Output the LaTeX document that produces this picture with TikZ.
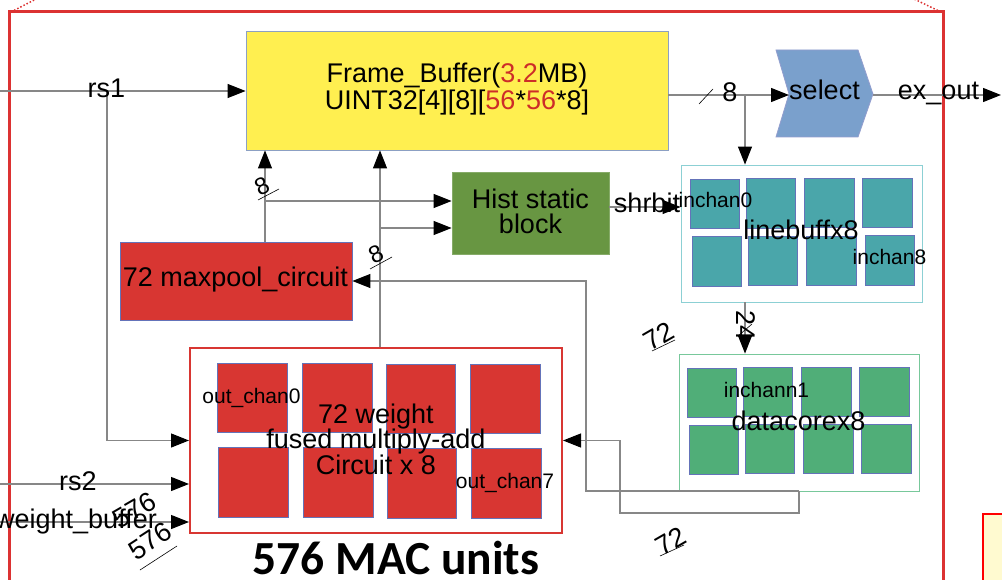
\documentclass[tikz,border=0pt]{standalone}
\usepackage{fontspec}
\setmainfont{Liberation Sans}
\newfontfamily\carlito{Carlito}
\usetikzlibrary{arrows.meta}
\definecolor{framered}{RGB}{220,50,50}
\definecolor{fbyellow}{RGB}{255,239,80}
\definecolor{boxedge}{RGB}{140,160,195}
\definecolor{txtred}{RGB}{205,45,40}
\definecolor{histgreen}{RGB}{104,150,66}
\definecolor{selblue}{RGB}{122,160,204}
\definecolor{macred}{RGB}{216,54,50}
\definecolor{sqedge}{RGB}{100,115,185}
\definecolor{teal}{RGB}{74,166,170}
\definecolor{lbedge}{RGB}{140,208,212}
\definecolor{dcgreen}{RGB}{80,174,120}
\definecolor{dcedge}{RGB}{120,200,155}
\definecolor{conngray}{RGB}{135,135,135}
\definecolor{noteyellow}{RGB}{255,250,208}
\begin{document}
\begin{tikzpicture}[x=1pt,y=-1pt,
  big/.style={font=\fontsize{27}{25}\selectfont,inner sep=0pt},
  small/.style={font=\fontsize{21}{21}\selectfont,inner sep=0pt},
  blk/.style={inner sep=0pt,draw=boxedge,line width=0.8pt},
  conn/.style={draw=conngray,line width=1.1pt},
  arr/.style={-{Triangle[length=18pt,width=14pt,color=black]}},
  slash/.style={draw=black,line width=0.6pt},
  sqred/.style={fill=macred,draw=sqedge,line width=0.8pt},
  sqteal/.style={fill=teal,draw=sqedge,line width=0.8pt},
  sqgreen/.style={fill=dcgreen,draw=sqedge,line width=0.8pt}]
\useasboundingbox (0,0) rectangle (1002,580);

% outer frame
\draw[framered,line width=3pt] (9.5,600) -- (9.5,12) -- (943,12) -- (943,600);
\draw[framered,line width=1.5pt,dotted] (11,12) -- (38,-2);
\draw[framered,line width=1.5pt,dotted] (941,12) -- (912,-2);
% note box bottom right
\draw[draw=red,line width=2pt,fill=noteyellow] (983,514) rectangle (1012,600);

% blocks
\node[blk,fill=fbyellow,minimum width=422pt,minimum height=119pt] (fb) at (457,90.5) {};
\node[big,align=center] (fbtext) at (457,89) {Frame\_Buffer(\textcolor{txtred}{3.2}MB)\\UINT32[4][8][\textcolor{txtred}{56}*\textcolor{txtred}{56}*8]};
\node[blk,draw=histgreen!80!white,fill=histgreen,minimum width=157pt,minimum height=82pt] (hist) at (530.5,213) {};
\node[big,align=center] (histtext) at (530.5,211.5) {Hist static\\block};
\node[blk,draw=sqedge,fill=macred,minimum width=232pt,minimum height=78pt] (maxp) at (236,281) {};
\node[big,anchor=base] (maxptext) at (235.5,287) {72 maxpool\_circuit};

% select chevron
\filldraw[fill=selblue,draw=sqedge!70!white,line width=0.8pt] (776,50) -- (858,50) -- (873,94) -- (858,137) -- (776,137) -- (789,94) -- cycle;
\coordinate (selin) at (789,95);
\coordinate (selout) at (873,95);
\node[big,anchor=base] (sel) at (824.5,100) {select};

% linebuff
\node[inner sep=0pt,draw=lbedge,line width=0.9pt,minimum width=241pt,minimum height=137pt] (lb) at (801.5,233.5) {};
\foreach \xa/\ya/\xb/\yb in {690/179/739/228, 746/178/795/228, 804/178/854/227, 862/178/912/227,
  692/236/741/286, 748/236/797/285, 806/236/856/285, 865/235/914/285}
  \path[sqteal] (\xa,\ya) rectangle (\xb,\yb);
\node[big] (lbtext) at (801,230) {linebuffx8};
\node[small,anchor=base] (inchan0) at (715.5,208) {inchan0};
\node[small,anchor=base] (inchan8) at (889.5,265) {inchan8};

% datacore
\node[inner sep=0pt,draw=dcedge,line width=0.9pt,minimum width=240pt,minimum height=137pt] (dc) at (799,422.5) {};
\foreach \xa/\ya/\xb/\yb in {687/368/736/417, 743/367/792/416, 801/367/851/416, 859/367/909/416,
  689/425/738/474, 745/424/794/473, 803/424/853/473, 861/424/911/473}
  \path[sqgreen] (\xa,\ya) rectangle (\xb,\yb);
\node[small,anchor=base] (inchann1) at (766.5,397) {inchann1};
\node[big,anchor=base] (dctext) at (798.5,430) {datacorex8};

% MAC block
\node[inner sep=0pt,draw=macred,line width=2pt,minimum width=372pt,minimum height=185pt] (mac) at (376,440.5) {};
\foreach \xa/\ya/\xb/\yb in {217/363/287/432, 302/363/372/432, 386/364/455/433, 470/364/540/433,
  218/447/288/517, 303/447/373/517, 387/448/456/518, 471/448/541/518}
  \path[sqred] (\xa,\ya) rectangle (\xb,\yb);
\node[big,align=center,font=\fontsize{27}{25.5}\selectfont] (mactext) at (376,439) {72 weight\\fused multiply-add\\Circuit x 8};
\node[small,anchor=base] (oc0) at (251.5,403) {out\_chan0};
\node[small,anchor=base] (oc7) at (505,488) {out\_chan7};
\node[anchor=base,inner sep=0pt,font=\carlito\bfseries\fontsize{47.5}{47.5}\selectfont] (macunits) at (396,574) {576 MAC units};

% connectors
\coordinate (rs1in) at (0,91);
\coordinate (j1) at (107,91);
\draw[conn,arr] (rs1in) -- (rs1in -| fb.west);
\draw[conn,arr] (j1) |- (mac.west);
\node[big,anchor=base] (rs1) at (106.5,98) {rs1};

\coordinate (rs2in) at (0,484);
\draw[conn,arr] (rs2in) -- (rs2in -| mac.west);
\node[big,anchor=base] (rs2) at (78,490) {rs2};

\coordinate (wbin) at (0,522);
\draw[conn,arr] (wbin) -- (wbin -| mac.west);
\node[big,anchor=base] (wb) at (76,528) {weight\_buffer};
\node[big,rotate=30] (n576a) at (134,510) {576};
\node[big,rotate=33] (n576b) at (150,541) {576};
\draw[slash] (140,570) -- (177,546);

% frame buffer -> select / linebuff
\coordinate (fbout) at (fb.east |- selin);
\coordinate (j2) at (745,95);
\draw[conn,arr] (fbout) -- (selin);
\draw[slash] (699,104) -- (713,89);
\node[big,anchor=base] (n8a) at (730,101.5) {8};
\draw[conn,arr] (j2) -- (j2 |- lb.north);
\coordinate (exout) at (1001,95);
\draw[conn,arr] (selout) -- (exout);
\node[big,anchor=base] (exlabel) at (938.5,100) {ex\_out};

% maxpool / mac -> frame buffer, hist
\coordinate (c265) at (265,0);
\coordinate (c380) at (380,0);
\draw[conn,arr] (maxp.north -| c265) -- (fb.south -| c265);
\draw[conn,arr] (mac.north -| c380) -- (fb.south -| c380);
\coordinate (h1) at (265,201);
\coordinate (h2) at (380,228);
\draw[conn,arr] (h1) -- (h1 -| hist.west);
\draw[conn,arr] (h2) -- (h2 -| hist.west);
\node[font=\fontsize{24}{24}\selectfont,inner sep=0pt,rotate=25] (n8b) at (262,186) {8};
\draw[slash] (258,200) -- (279,189);
\node[font=\fontsize{24}{24}\selectfont,inner sep=0pt,rotate=25] (n8c) at (376,254) {8};
\draw[slash] (370,269) -- (392,257);

% hist -> linebuff
\coordinate (h3) at (609,207);
\draw[conn,arr] (h3) -- (h3 -| lb.west);
\node[big,anchor=base] (shrbit) at (647,213) {shrbit};

% linebuff -> datacore
\coordinate (c745) at (745,0);
\draw[conn,arr] (lb.south -| c745) -- (dc.north -| c745);
\node[big,rotate=-90] (n24) at (746,326) {24};
\draw[slash] (738,336) -- (752,324);

% datacore -> maxpool, mac
\coordinate (dcout) at (799,491);
\coordinate (k1) at (586,491);
\coordinate (k2) at (799,513);
\coordinate (k3) at (620,513);
\draw[conn,arr] (dcout) -- (k1) |- (maxp.east);
\draw[conn,arr] (dcout) -- (k2) -- (k3) |- (mac.east);
\node[big,rotate=30] (n72a) at (659,336) {72};
\draw[slash] (652,351) -- (675,340);
\node[big,rotate=30] (n72b) at (671,541) {72};
\draw[slash] (660,556) -- (684,545);
\end{tikzpicture}
\end{document}
